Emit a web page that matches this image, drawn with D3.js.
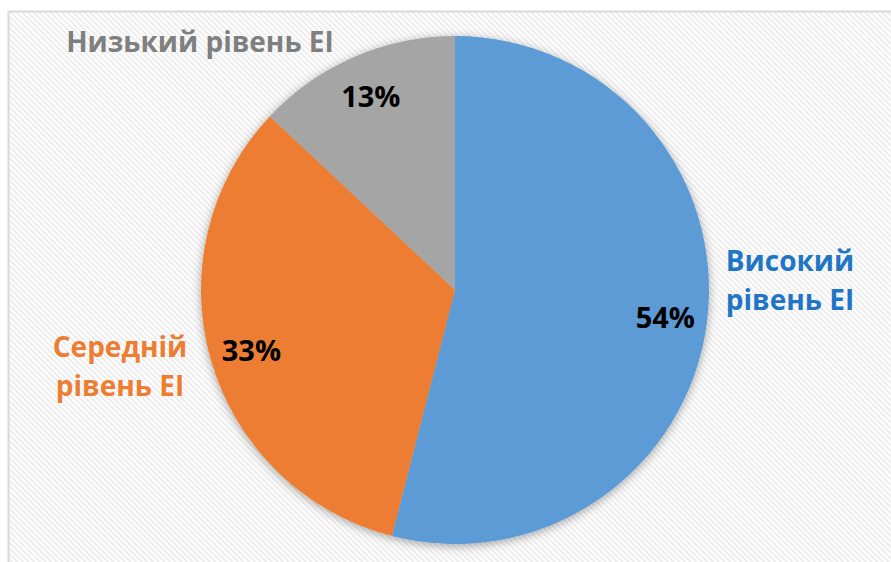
<!DOCTYPE html>
<html>
<head>
<meta charset="utf-8">
<script src="https://cdn.jsdelivr.net/npm/d3@7"></script>
<style>
  html, body { margin: 0; padding: 0; background: #ffffff; }
  svg { display: block; }
  text { font-family: "Open Sans", "Noto Sans", sans-serif; font-weight: 700; }
</style>
</head>
<body>
<svg id="chart" width="891" height="562"></svg>
<script>
// Emotional intelligence level distribution
const categories = ["Високий рівень EI", "Середній рівень EI", "Низький рівень EI"];
const values = [54, 33, 13];
const percentLabels = ["54%", "33%", "13%"];
const labelLines = [["Високий", "рівень EI"], ["Середній", "рівень EI"], ["Низький рівень EI"]];

const sliceColors = ["#5B9BD5", "#ED7D31", "#A5A5A5"];
const labelColors = ["#1F76C6", "#ED7D31", "#7F7F7F"];

const W = 891, H = 562;
const cx = 455, cy = 290, R = 254;
// where each category label block sits (centre x, first baseline y)
const labelAnchors = [[790, 271], [120, 357], [200, 52]];
const lineGap = 39;

const svg = d3.select("#chart");
const defs = svg.append("defs");

// light diagonal stripe texture for the plot area
const pat = defs.append("pattern")
  .attr("id", "stripes")
  .attr("patternUnits", "userSpaceOnUse")
  .attr("width", 4).attr("height", 4)
  .attr("patternTransform", "rotate(45)");
pat.append("rect").attr("width", 4).attr("height", 4).attr("fill", "#ffffff");
pat.append("rect").attr("width", 4).attr("height", 2).attr("fill", "#ededed");

const shadow = defs.append("filter").attr("id", "pieShadow")
  .attr("x", "-20%").attr("y", "-20%").attr("width", "140%").attr("height", "140%");
shadow.append("feDropShadow")
  .attr("dx", 0).attr("dy", 2).attr("stdDeviation", 5)
  .attr("flood-color", "#000").attr("flood-opacity", 0.35);

svg.append("rect").attr("width", W).attr("height", H).attr("fill", "#ffffff");
svg.append("rect")
  .attr("x", 8.5).attr("y", 11.5).attr("width", W + 20).attr("height", H + 20)
  .attr("fill", "url(#stripes)")
  .attr("stroke", "#d9d9d9").attr("stroke-width", 2);

const pie = d3.pie().sort(null).value(d => d);
const arcs = pie(values);
const arc = d3.arc().innerRadius(0).outerRadius(R);
const labelArc = d3.arc().innerRadius(212).outerRadius(212);

const g = svg.append("g").attr("transform", `translate(${cx},${cy})`);

g.append("g").attr("filter", "url(#pieShadow)")
  .selectAll("path")
  .data(arcs)
  .join("path")
  .attr("d", arc)
  .attr("fill", (d, i) => sliceColors[i]);

g.selectAll("text.pct")
  .data(arcs)
  .join("text")
  .attr("class", "pct")
  .attr("transform", d => `translate(${labelArc.centroid(d)})`)
  .attr("text-anchor", "middle")
  .attr("dominant-baseline", "central")
  .attr("font-size", 29)
  .attr("fill", "#000000")
  .text((d, i) => percentLabels[i]);

const cat = svg.selectAll("text.cat")
  .data(categories)
  .join("text")
  .attr("class", "cat")
  .attr("text-anchor", "middle")
  .attr("font-size", 28)
  .attr("fill", (d, i) => labelColors[i]);

cat.each(function (d, i) {
  const [x, y] = labelAnchors[i];
  d3.select(this).selectAll("tspan")
    .data(labelLines[i])
    .join("tspan")
    .attr("x", x)
    .attr("y", (t, j) => y + j * lineGap)
    .text(t => t);
});
</script>
</body>
</html>
